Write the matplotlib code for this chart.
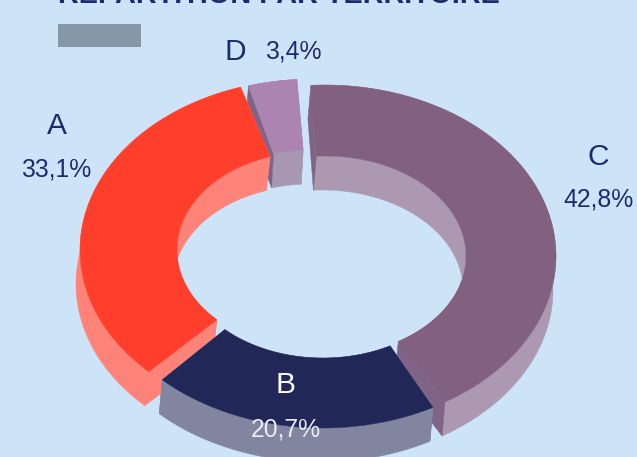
import numpy as np
import matplotlib
matplotlib.use("Agg")
import matplotlib.pyplot as plt
from matplotlib.patches import Polygon, Rectangle

plt.rcParams['font.family'] = ['Liberation Sans', 'DejaVu Sans']

# values
labels = ['C', 'B', 'A', 'D']
shares = [42.8, 20.7, 33.1, 3.4]
pct_text = ['42,8%', '20,7%', '33,1%', '3,4%']
title = "RÉPARTITION PAR TERRITOIRE"

top_cols = ['#826080', '#212858', '#ff3f2b', '#ab84b0']
wall_cols = ['#ac98b0', '#82859f', '#ff8378', '#a897b0']
start_cols = ['#7f6488', '#82859f', '#ff8378', '#7f6488']
stop_cols = ['#7f6488', '#82859f', '#ff8378', '#a897b0']
BG = '#cce3f8'
NAVY = '#1f2a6e'

# every slice is pulled out a little, so each has its own centre
centres = [(325, 256), (323, 257), (311, 250), (313, 250)]
RX, RY = 231, 171
inner_rx = [141, 141, 134, 141]
inner_ry = [100, 101, 98, 100]
DEPTH = 34
START = -4


def ring(t, rx, ry, c):
    return np.column_stack([c[0] + rx*np.sin(t), c[1] - ry*np.cos(t)])


fig = plt.figure(figsize=(6.37, 4.57), dpi=100, facecolor=BG)
ax = fig.add_axes([0, 0, 1, 1])
ax.set_xlim(0, 637)
ax.set_ylim(457, 0)
ax.axis('off')

edges = START + np.cumsum([0] + shares) * 3.6
gaps = [(0.5, 1.4), (1.5, 0.5), (0, 1.5), (0, 0)]
depth_dx = [-3, -3, -4, -2]

# back slices first, B goes last because it sits in front
for i in [3, 0, 2, 1]:
    a0, a1 = edges[i] + gaps[i][0], edges[i+1] - gaps[i][1]
    t = np.radians(np.linspace(a0, a1, 120))
    c = centres[i]
    d = np.array([depth_dx[i], DEPTH])
    outer = ring(t, RX, RY, c)
    inner = ring(t, inner_rx[i], inner_ry[i], c)
    ax.add_patch(Polygon(np.vstack([outer, (outer + d)[::-1]]), fc=wall_cols[i], ec=wall_cols[i], lw=0.3))
    ax.add_patch(Polygon(np.vstack([inner, (inner + d)[::-1]]), fc=wall_cols[i], ec=wall_cols[i], lw=0.3))
    for o, n, col in [(outer[0], inner[0], start_cols[i]), (outer[-1], inner[-1], stop_cols[i])]:
        ax.add_patch(Polygon([o, n, n + d, o + d], fc=col, ec=col, lw=0.3))
    ax.add_patch(Polygon(np.vstack([outer, inner[::-1]]), fc=top_cols[i], ec=top_cols[i], lw=0.3))

ax.text(58, 3, title, fontsize=20.8, fontweight='bold', color=NAVY, va='baseline', ha='left')
ax.add_patch(Rectangle((58, 24), 83, 23, fc='#8598a7', ec='none'))

lab_pos = [(598, 157), (286, 385), (57, 126), (235, 52)]
pct_pos = [(598, 200), (286, 429), (56, 170), (293, 51)]
txt_cols = [NAVY, 'white', NAVY, NAVY]
for i in range(4):
    ax.text(*lab_pos[i], labels[i], fontsize=21.5, color=txt_cols[i], ha='center', va='center')
    ax.text(*pct_pos[i], pct_text[i], fontsize=17.8, color='#e8ecf5' if i == 1 else NAVY, ha='center', va='center')

fig.savefig('out.png', dpi=100, facecolor=BG)
